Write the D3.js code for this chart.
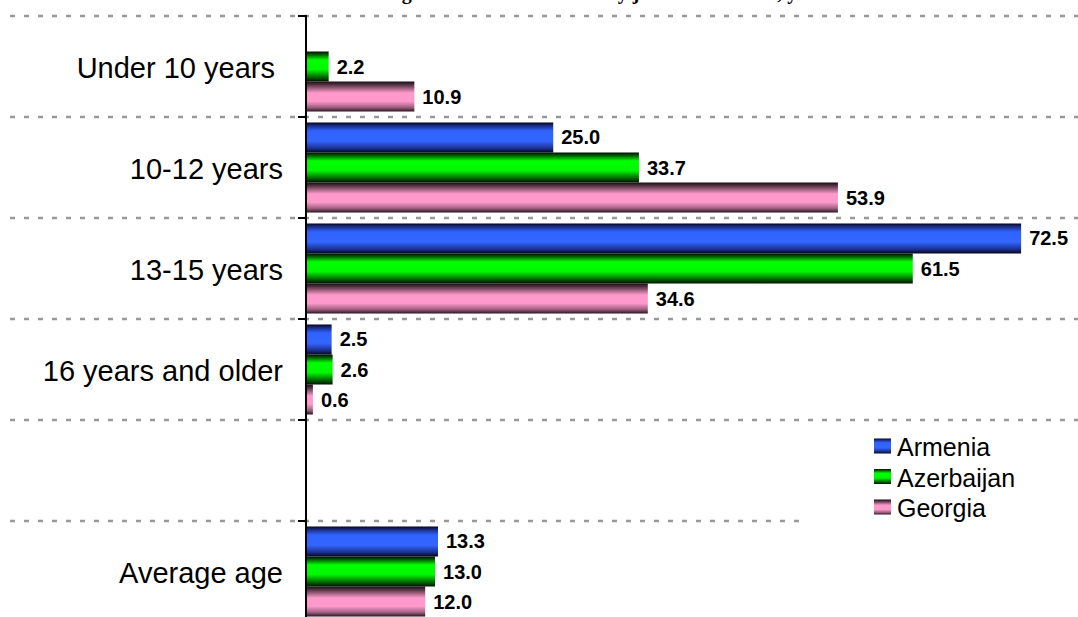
<!DOCTYPE html>
<html>
<head>
<meta charset="utf-8">
<script src="https://cdn.jsdelivr.net/npm/d3@7"></script>
<style>
  html, body { margin: 0; padding: 0; background: #fff; }
  svg { display: block; }
</style>
</head>
<body>
<svg id="chart" width="1078" height="617"></svg>
<script>
// ---- Data ----
const categories = ["Under 10 years\u00A0", "10-12 years", "13-15 years", "16 years and older", "", "Average age"];
const seriesNames = ["Armenia", "Azerbaijan", "Georgia"];
const armenia    = [null, 25.0, 72.5, 2.5, null, 13.3];
const azerbaijan = [2.2, 33.7, 61.5, 2.6, null, 13.0];
const georgia    = [10.9, 53.9, 34.6, 0.6, null, 12.0];
const titleText = "Age at which the first salary job was obtained, years";

const seriesValues = [armenia, azerbaijan, georgia];

// ---- Setup ----
const W = 1078, H = 617;
const svg = d3.select("#chart");
const FONT = "Arial, 'Liberation Sans', sans-serif";

const y = d3.scaleBand().domain(categories).range([16, 16 + 101 * categories.length]).padding(0);
const yInner = d3.scaleBand().domain(seriesNames).range([0, y.bandwidth()]).paddingInner(0).paddingOuter(0.183);
const x = d3.scaleLinear().domain([0, 80]).range([307, 307 + 80 * 9.85]);

// gradients
const gradStops = {
  Armenia: [[0, "#05051a"], [0.1, "#1a2a80"], [0.28, "#3062ff"], [0.62, "#3366ff"], [0.86, "#1b3090"], [1, "#05051a"]],
  Azerbaijan: [[0, "#001000"], [0.1, "#005a00"], [0.28, "#00ff00"], [0.6, "#00f800"], [0.84, "#007000"], [1, "#001000"]],
  Georgia: [[0, "#1a0a12"], [0.12, "#5a3848"], [0.38, "#ff99cc"], [0.66, "#ff99cc"], [0.86, "#a06080"], [1, "#2a1520"]]
};
const defs = svg.append("defs");
seriesNames.forEach((s, i) => {
  const g = defs.append("linearGradient").attr("id", "grad" + i)
    .attr("x1", 0).attr("y1", 0).attr("x2", 0).attr("y2", 1);
  gradStops[s].forEach(([o, c]) => g.append("stop").attr("offset", o).attr("stop-color", c));
});

// title (mostly cut off at top, as in the reference)
svg.append("text")
  .attr("x", 610).attr("y", -1)
  .attr("text-anchor", "middle")
  .attr("font-family", "'Times New Roman', 'Liberation Serif', serif")
  .attr("font-weight", "bold").attr("font-size", 20)
  .attr("fill", "#000")
  .text(titleText);

// gridlines at category boundaries
const boundaries = categories.map(c => y(c));
svg.append("g").selectAll("line").data(boundaries).join("line")
  .attr("x1", 10).attr("x2", W)
  .attr("y1", d => d).attr("y2", d => d)
  .attr("stroke", "#999").attr("stroke-width", 2.5)
  .attr("stroke-dasharray", "5,9");

// bars
const barG = svg.append("g");
seriesNames.forEach((s, si) => {
  const vals = seriesValues[si];
  const data = categories.map((c, ci) => ({ c, v: vals[ci] })).filter(d => d.v != null);
  barG.append("g").selectAll("rect").data(data).join("rect")
    .attr("x", x(0))
    .attr("y", d => y(d.c) + yInner(s))
    .attr("width", d => x(d.v) - x(0))
    .attr("height", yInner.bandwidth())
    .attr("fill", `url(#grad${si})`);
  barG.append("g").selectAll("text").data(data).join("text")
    .attr("x", d => x(d.v) + 8)
    .attr("y", d => y(d.c) + yInner(s) + yInner.bandwidth() / 2)
    .attr("dominant-baseline", "central")
    .attr("font-family", FONT).attr("font-weight", "bold").attr("font-size", 20)
    .attr("fill", "#000")
    .text(d => d3.format(".1f")(d.v));
});

// axis
const axis = d3.axisLeft(y).tickSize(8).tickSizeOuter(0).tickFormat("");
const axG = svg.append("g").attr("transform", `translate(306,0)`).call(axis);
axG.select(".domain").remove();
axG.selectAll(".tick").attr("transform", d => `translate(0,${y(d)})`);
axG.selectAll(".tick line").attr("stroke", "#000").attr("stroke-width", 2);
svg.append("line").attr("x1", 306).attr("x2", 306).attr("y1", 15).attr("y2", H)
  .attr("stroke", "#000").attr("stroke-width", 2);

// category labels
svg.append("g").selectAll("text").data(categories).join("text")
  .attr("x", 283)
  .attr("y", d => y(d) + y.bandwidth() / 2 + 1)
  .attr("text-anchor", "end")
  .attr("dominant-baseline", "central")
  .attr("font-family", FONT).attr("font-size", 29)
  .attr("fill", "#000")
  .style("white-space", "pre")
  .text(d => d);

// legend
const lg = svg.append("g");
lg.append("rect").attr("x", 802).attr("y", 426).attr("width", W - 802).attr("height", 104).attr("fill", "#fff");
seriesNames.forEach((s, i) => {
  const cy = 446 + i * 30.5;
  lg.append("rect").attr("x", 874).attr("y", cy - 7.5).attr("width", 17).attr("height", 15)
    .attr("fill", `url(#grad${i})`);
  lg.append("text").attr("x", 897).attr("y", cy + 1)
    .attr("dominant-baseline", "central")
    .attr("font-family", FONT).attr("font-size", 25).attr("fill", "#000")
    .text(s);
});
</script>
</body>
</html>
